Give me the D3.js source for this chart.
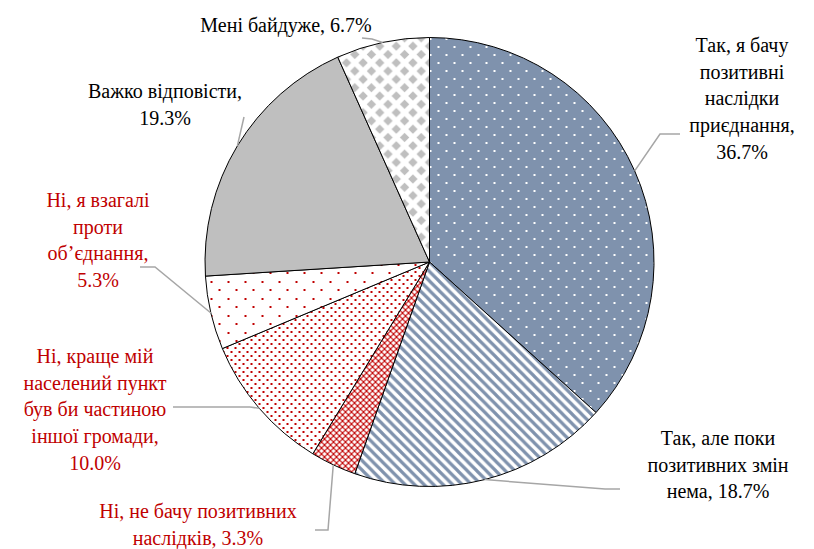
<!DOCTYPE html>
<html>
<head>
<meta charset="utf-8">
<script src="https://cdn.jsdelivr.net/npm/d3@7"></script>
</head>
<body style="margin:0">
<script>
// Data
var categories = [
    ['Так, я бачу', 'позитивні', 'наслідки', 'приєднання,'],
    ['Так, але поки', 'позитивних змін', 'нема,'],
    ['Ні, не бачу позитивних', 'наслідків,'],
    ['Ні, краще мій', 'населений пункт', 'був би частиною', 'іншої громади,'],
    ['Ні, я взагалі', 'проти', 'об’єднання,'],
    ['Важко відповісти,'],
    ['Мені байдуже,']
];
var values = [36.7, 18.7, 3.3, 10.0, 5.3, 19.3, 6.7];
// percent on the last text line (true) or on its own line (false)
var pctInline = [false, true, true, false, false, false, true];
var negative = [false, false, true, true, true, false, false];

var width = 814,
    height = 549,
    cx = 429.5,
    cy = 262,
    radius = 224.5,
    lineH = 26.8,
    baseOff = 20.2;   // line top to baseline at 20px

// Label layout: x centre, first baseline, leader points (elbow, end)
var labelPos = [
    { x: 742, y: 52,  leader: [[660, 134], [680, 134]] },
    { x: 718, y: 445, leader: [[605, 489], [620, 489]] },
    { x: 198, y: 518, leader: [[328, 530], [315, 530]] },
    { x: 95,  y: 363, leader: [[250, 407], [173, 407]] },
    { x: 98,  y: 207, leader: [[155, 267], [140, 267]] },
    { x: 165, y: 98,  leader: [[244, 117]] },
    { x: 286, y: 32,  leader: [[372, 39], [362, 38]] }
];

var red = '#C00000',
    blue = '#7F92AD',
    grey = '#BFBFBF';

var wrap = d3.select('body').append('div')
    .style('position', 'relative')
    .style('width', width + 'px')
    .style('height', height + 'px');

var svg = wrap.append('svg')
    .attr('width', width)
    .attr('height', height)
    .style('display', 'block');

// Patterns
var defs = svg.append('defs');

function pattern(id, w, h) {
    return defs.append('pattern')
        .attr('id', id)
        .attr('patternUnits', 'userSpaceOnUse')
        .attr('width', w)
        .attr('height', h);
}

// blue with sparse white dots
var p1 = pattern('p1', 16, 16);
p1.append('rect').attr('width', 16).attr('height', 16).attr('fill', blue);
p1.append('rect').attr('x', 0).attr('y', 0).attr('width', 2).attr('height', 2).attr('fill', '#fff');
p1.append('rect').attr('x', 8).attr('y', 8).attr('width', 2).attr('height', 2).attr('fill', '#fff');

// blue diagonal stripes
var p2 = pattern('p2', 9.5, 9.5);
p2.append('rect').attr('width', 9.5).attr('height', 9.5).attr('fill', '#fff');
p2.append('path').attr('d', 'M-2,-2 L11.5,11.5 M-11.5,-2 L2,11.5 M7.5,-2 L21,11.5')
    .attr('stroke', blue).attr('stroke-width', 3.2);

// red trellis
var p3 = pattern('p3', 6, 6);
p3.append('rect').attr('width', 6).attr('height', 6).attr('fill', '#fff');
p3.append('path').attr('d', 'M0,0 L6,6 M6,0 L0,6')
    .attr('stroke', red).attr('stroke-width', 1.1);

// red dense dots
var p4 = pattern('p4', 8, 8);
p4.append('rect').attr('width', 8).attr('height', 8).attr('fill', '#fff');
p4.append('rect').attr('x', 1).attr('y', 1).attr('width', 2).attr('height', 2).attr('fill', red);
p4.append('rect').attr('x', 5).attr('y', 5).attr('width', 2).attr('height', 2).attr('fill', red);

// red sparse dots
var p5 = pattern('p5', 17, 17);
p5.append('rect').attr('width', 17).attr('height', 17).attr('fill', '#fff');
p5.append('rect').attr('x', 2).attr('y', 2).attr('width', 2).attr('height', 2).attr('fill', red);
p5.append('rect').attr('x', 10).attr('y', 10).attr('width', 2).attr('height', 2).attr('fill', red);

// grey diamonds
var p7 = pattern('p7', 16.6, 16.6);
p7.append('rect').attr('width', 16.6).attr('height', 16.6).attr('fill', '#fff');
p7.append('path')
    .attr('d', 'M8.3,3.6 L13,8.3 L8.3,13 L3.6,8.3 Z M0,-4.7 L4.7,0 L0,4.7 L-4.7,0 Z M16.6,-4.7 L21.3,0 L16.6,4.7 L11.9,0 Z' +
        ' M0,11.9 L4.7,16.6 L0,21.3 L-4.7,16.6 Z M16.6,11.9 L21.3,16.6 L16.6,21.3 L11.9,16.6 Z')
    .attr('fill', grey);

var fills = ['url(#p1)', 'url(#p2)', 'url(#p3)', 'url(#p4)', 'url(#p5)', grey, 'url(#p7)'];

// Pie
var pie = d3.pie().sort(null).value(function(d) { return d; });
var arcs = pie(values);

var arc = d3.arc().innerRadius(0).outerRadius(radius);
var edgeArc = d3.arc().innerRadius(radius).outerRadius(radius);

var g = svg.append('g')
    .attr('transform', 'translate(' + cx + ',' + cy + ')');

g.selectAll('path')
    .data(arcs)
    .enter()
    .append('path')
    .attr('d', arc)
    .attr('fill', function(d, i) { return fills[i]; })
    .attr('stroke', '#000')
    .attr('stroke-width', 1);

// Leader lines
svg.selectAll('polyline')
    .data(arcs)
    .enter()
    .append('polyline')
    .attr('points', function(d, i) {
        var c = edgeArc.centroid(d);
        var pts = [[cx + c[0], cy + c[1]]].concat(labelPos[i].leader);
        return pts.map(function(p) { return p.join(','); }).join(' ');
    })
    .attr('fill', 'none')
    .attr('stroke', '#A6A6A6')
    .attr('stroke-width', 1.5);

// Labels as html blocks over the svg
wrap.selectAll('div.lab')
    .data(arcs)
    .enter()
    .append('div')
    .attr('class', 'lab')
    .style('position', 'absolute')
    .style('left', function(d, i) { return (labelPos[i].x - 150) + 'px'; })
    .style('top', function(d, i) { return (labelPos[i].y - baseOff) + 'px'; })
    .style('width', '300px')
    .style('text-align', 'center')
    .style('white-space', 'pre')
    .style('font-family', '"Liberation Serif", "Times New Roman", serif')
    .style('font-size', '20px')
    .style('line-height', lineH + 'px')
    .style('color', function(d, i) { return negative[i] ? red : '#000'; })
    .text(function(d, i) {
        var lines = categories[i].slice();
        var pct = d3.format('.1f')(values[i]) + '%';
        if (pctInline[i]) {
            lines[lines.length - 1] += ' ' + pct;
        } else {
            lines.push(pct);
        }
        return lines.join('\n');
    });
</script>
</body>
</html>
